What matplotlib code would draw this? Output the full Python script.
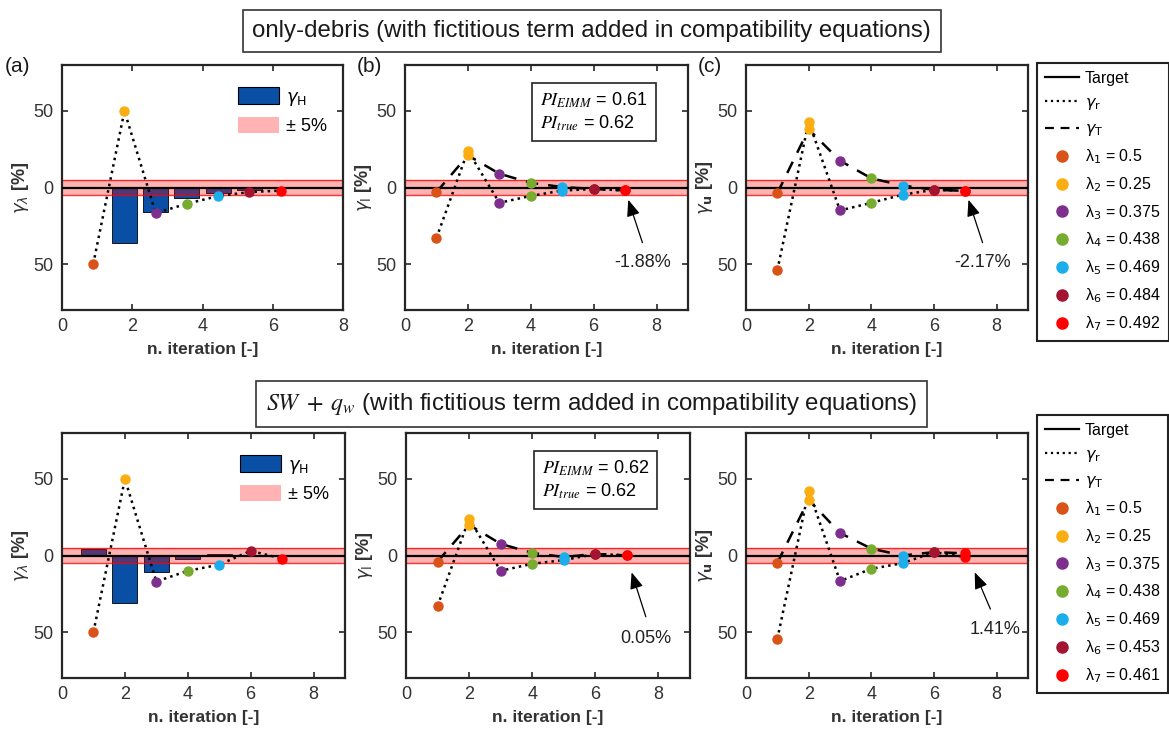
"""
Convergence des itérations EIMM : écarts gamma par itération pour deux cas
(only-debris et SW + q_w), avec bande de tolérance ±5 %.
Sortie : out.png
"""

import matplotlib
matplotlib.use("Agg")
import matplotlib.pyplot as plt
import numpy as np
from matplotlib.lines import Line2D
from matplotlib.patches import Patch

plt.rcParams["font.family"] = ["Liberation Sans", "DejaVu Sans"]
plt.rcParams["mathtext.fontset"] = "dejavusans"

# --- données -------------------------------------------------------------
ITER = [1, 2, 3, 4, 5, 6, 7]
LAM_COLORS = ["#D95319", "#FBAD12", "#7E2F8E", "#77AC30", "#1BAEEA", "#A2142F", "#FF0000"]
LAM_TOP = ["0.5", "0.25", "0.375", "0.438", "0.469", "0.484", "0.492"]
LAM_BOT = ["0.5", "0.25", "0.375", "0.438", "0.469", "0.453", "0.461"]

# ligne du haut : only-debris
GL_TOP = [-50, 50, -16.7, -10.6, -5.6, -3, -2]          # gamma_lambda
GH_TOP_X = [2, 3, 4, 5, 6, 7]
GH_TOP = [-36, -16, -7, -3.5, -1.5, -0.5]               # gamma_H (barres)
GT_I_TOP = [-3, 21, 9, 3, 0.3, -1, -1.88]
GR_I_TOP = [-33, 24, -10, -5.5, -2, -1, -1.88]
GT_U_TOP = [-3.7, 38, 17.5, 6, 1.3, -1.5, -2.17]
GR_U_TOP = [-54, 43, -15, -10, -4.7, -1.5, -2.17]
PI_TOP = ("0.61", "0.62")

# ligne du bas : SW + q_w
GL_BOT = [-50, 50, -17, -10, -6, 3, -2]
GH_BOT_X = [1, 2, 3, 4, 5, 6, 7]
GH_BOT = [4.5, -31, -11, -2.6, 1.3, 0.5, -0.3]
GT_I_BOT = [-4, 20, 7.6, 1.7, -1, 1, 0.05]
GR_I_BOT = [-33, 24, -10, -5.4, -3, 1, 0.05]
GT_U_BOT = [-4.8, 36.4, 14.7, 4.5, 0, 2.2, 1.41]
GR_U_BOT = [-54.5, 42.4, -16.7, -8.7, -5, 2.2, -1.0]
PI_BOT = ("0.62", "0.62")

W, H = 1169, 733
FRAME = "#262626"
MS = 6.5


def px_axes(fig, x0, y0, x1, y1):
    return fig.add_axes([x0 / W, 1 - y1 / H, (x1 - x0) / W, (y1 - y0) / H])


def style(ax, ylabel, stretched=False):
    ax.set_ylim(-80, 80)
    ax.set_xlim(0, 9)
    if stretched:
        ax.set_xticks(np.linspace(0, 9, 5))
    else:
        ax.set_xticks([0, 2, 4, 6, 8])
    ax.set_xticklabels(["0", "2", "4", "6", "8"])
    ax.set_yticks([-50, 0, 50])
    ax.set_yticklabels(["50", "0", "50"])
    ax.tick_params(direction="in", top=True, right=True, labelsize=13,
                   colors=FRAME, length=4, width=1.2, pad=6)
    ax.tick_params(labelcolor="#333333")
    for s in ax.spines.values():
        s.set_linewidth(1.6)
        s.set_color(FRAME)
    ax.set_xlabel("n. iteration [-]", fontsize=12.5, fontweight="bold",
                  color="#333333", labelpad=5)
    ax.set_ylabel(ylabel, fontsize=13, fontweight="bold", color="#333333", labelpad=2)
    # cible et bande ±5 %
    ax.axhspan(-5, 5, color="red", alpha=0.3, lw=0, zorder=2)
    ax.axhline(5, color="red", lw=1.0, alpha=0.8, zorder=2)
    ax.axhline(-5, color="red", lw=1.0, alpha=0.8, zorder=2)
    ax.axhline(0, color="black", lw=1.6, zorder=3)


def dots(ax, xs, ys):
    for x, y, c in zip(xs, ys, LAM_COLORS):
        ax.plot(x, y, "o", color=c, ms=MS, mec=c, zorder=5)


def panel_lambda(ax, gl, hx, gh, stretched=False):
    ax.bar(hx, gh, width=0.8, color="#0A4FA6", edgecolor="black", lw=0.6, zorder=1)
    style(ax, r"$\gamma_\lambda$ [%]", stretched=stretched)
    ax.plot(ITER, gl, ":", color="black", lw=1.8, zorder=4)
    dots(ax, ITER, gl)
    ax.legend(handles=[Patch(facecolor="#0A4FA6", edgecolor="black", lw=0.8),
                       Patch(facecolor="#FFB3B3", edgecolor="none")],
              labels=[r"$\gamma_\mathrm{H}$", "± 5%"], loc="upper right",
              bbox_to_anchor=(1.0, 0.975), frameon=False, fontsize=13,
              handlelength=2.3, handleheight=1.0, handletextpad=0.35,
              labelspacing=0.5)


def panel_gamma(ax, ylabel, gT, gr, note, note_xy, arrow_from, arrow_to, pi):
    style(ax, ylabel)
    ax.plot(ITER, gT, color="black", lw=1.8, dashes=(5, 4), zorder=4)
    ax.plot(ITER, gr, ":", color="black", lw=1.8, zorder=4)
    dots(ax, ITER, gT)
    dots(ax, ITER, gr)
    ax.annotate("", xy=arrow_to, xytext=arrow_from,
                arrowprops=dict(arrowstyle="-|>,head_length=1.0,head_width=0.4",
                                color="black", lw=0.9, shrinkA=0, shrinkB=0),
                zorder=6)
    ax.text(*note_xy, note, fontsize=13, ha="center", va="center", color="#222222")
    if pi is not None:
        ax.text(4.3, 49.5, rf"$PI_{{EIMM}}$ = {pi[0]}" + "\n" + rf"$PI_{{true}}$ = {pi[1]}",
                fontsize=13, va="center", ha="left", math_fontfamily="stix",
                linespacing=1.2, zorder=7,
                bbox=dict(boxstyle="square,pad=0.45", fc="white", ec="#222222", lw=1.2))


def side_legend(fig, y_top, lam_vals):
    handles = [Line2D([], [], color="black", lw=1.6),
               Line2D([], [], color="black", lw=1.6, ls=":"),
               Line2D([], [], color="black", lw=1.6, dashes=(4, 3))]
    labels = ["Target", r"$\gamma_\mathrm{r}$", r"$\gamma_\mathrm{T}$"]
    for i, (c, v) in enumerate(zip(LAM_COLORS, lam_vals)):
        handles.append(Line2D([], [], ls="none", marker="o", ms=8, color=c))
        labels.append(f"λ$_{i + 1}$ = {v}")
    leg = fig.legend(handles, labels, loc="upper left",
                     bbox_to_anchor=(1037 / W, 1 - y_top / H), borderaxespad=0,
                     fontsize=11.5, handlelength=2.1, handletextpad=0.4,
                     labelspacing=0.57, borderpad=0.5, fancybox=False,
                     edgecolor="#222222", framealpha=1)
    leg.get_frame().set_linewidth(1.5)


def title_box(fig, y, text, **kw):
    fig.text(0.506, 1 - y / H, text, ha="center", va="center", fontsize=17.3,
             color="#1a1a1a",
             bbox=dict(boxstyle="square,pad=0.4", fc="white", ec="#333333", lw=1.2), **kw)


def main() -> None:
    fig = plt.figure(figsize=(W / 100, H / 100), dpi=100)

    # ligne du haut
    ax = px_axes(fig, 62, 65, 343, 310)
    panel_lambda(ax, GL_TOP, GH_TOP_X, GH_TOP, stretched=True)

    ax = px_axes(fig, 405, 65, 688, 310)
    panel_gamma(ax, r"$\gamma_\mathrm{l}$ [%]", GT_I_TOP, GR_I_TOP, "-1.88%",
                (7.55, -49), (7.55, -36), (7.1, -8), PI_TOP)

    ax = px_axes(fig, 746, 65, 1028, 310)
    panel_gamma(ax, r"$\gamma_\mathbf{u}$ [%]", GT_U_TOP, GR_U_TOP, "-2.17%",
                (7.55, -49), (7.55, -36), (7.1, -8), None)

    # ligne du bas
    ax = px_axes(fig, 62, 433, 345, 678)
    panel_lambda(ax, GL_BOT, GH_BOT_X, GH_BOT)

    ax = px_axes(fig, 406, 433, 690, 678)
    panel_gamma(ax, r"$\gamma_\mathrm{l}$ [%]", GT_I_BOT, GR_I_BOT, "0.05%",
                (7.6, -54), (7.6, -40), (7.15, -11), PI_BOT)

    ax = px_axes(fig, 746, 433, 1028, 678)
    panel_gamma(ax, r"$\gamma_\mathbf{u}$ [%]", GT_U_BOT, GR_U_BOT, "1.41%",
                (7.95, -48), (7.8, -35), (7.3, -11), None)

    side_legend(fig, 63, LAM_TOP)
    side_legend(fig, 415, LAM_BOT)

    title_box(fig, 31, "only-debris (with fictitious term added in compatibility equations)")
    title_box(fig, 404, r"$SW\;+\;q_w$ (with fictitious term added in compatibility equations)",
              math_fontfamily="stix")

    for lab, x in (("(a)", 5), ("(b)", 357), ("(c)", 698)):
        fig.text(x / W, 1 - 66 / H, lab, fontsize=15, va="center", ha="left", color="#1a1a1a")

    fig.savefig("out.png", dpi=100)


if __name__ == "__main__":
    main()
